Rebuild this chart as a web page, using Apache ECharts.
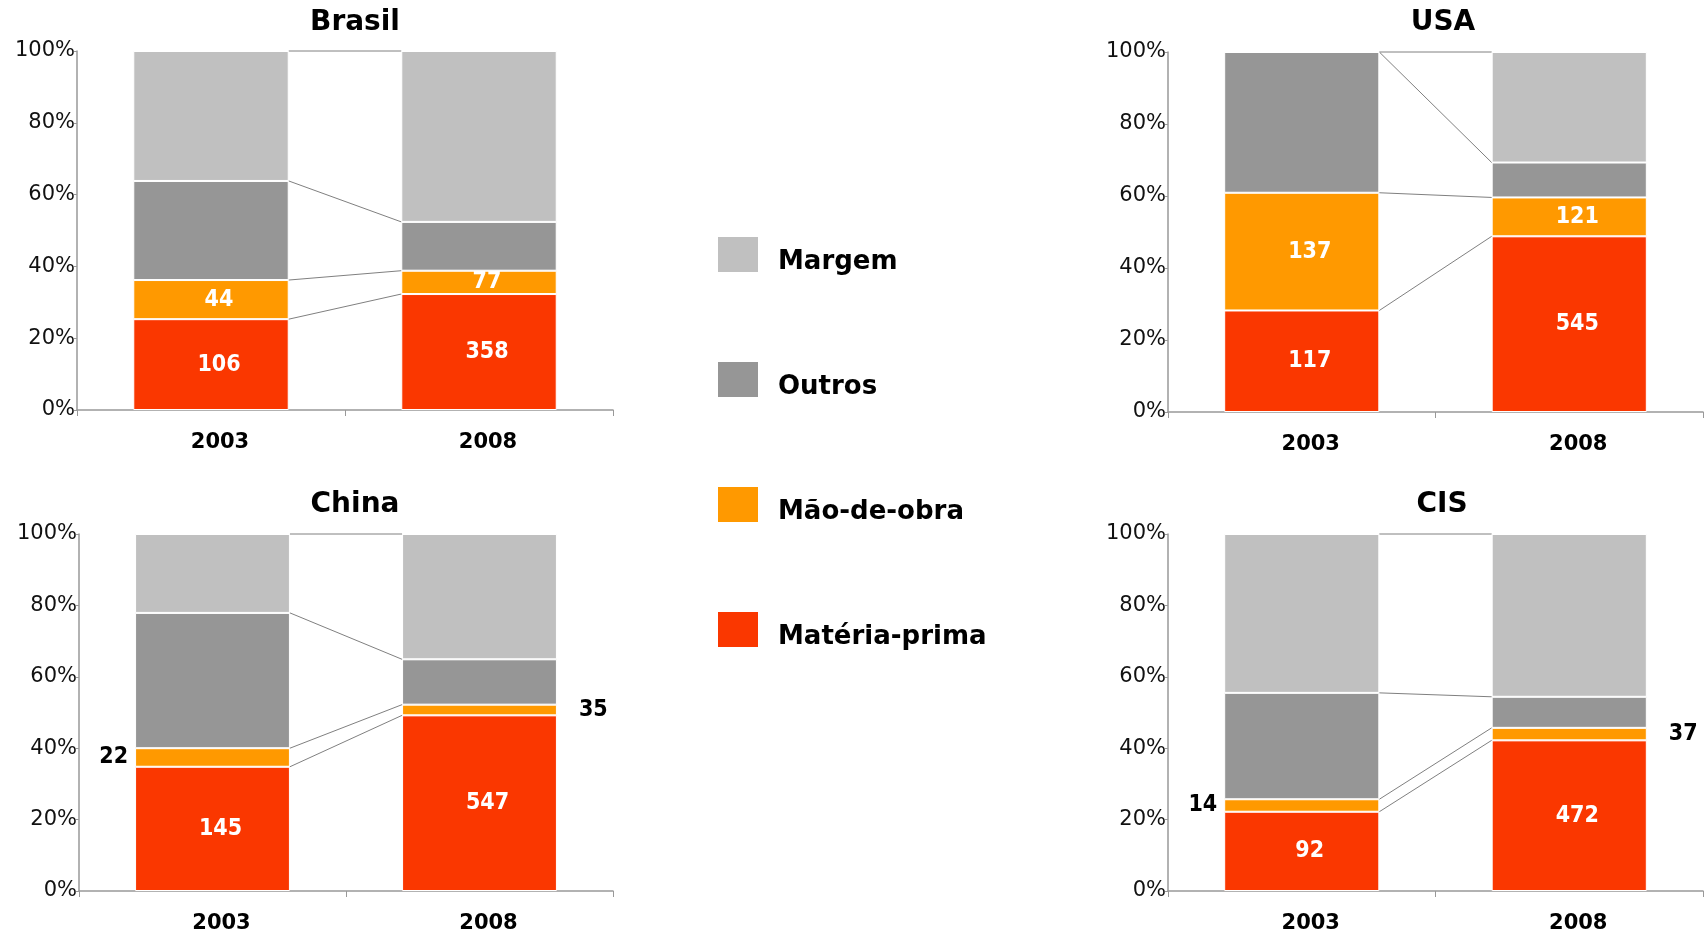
<!DOCTYPE html>
<html>
<head>
<meta charset="utf-8">
<script src="https://cdn.jsdelivr.net/npm/echarts@6/dist/echarts.min.js"></script>
<style>
  html, body { margin: 0; padding: 0; background: #fff; }
  #chart { width: 1707px; height: 934px; }
</style>
</head>
<body>
<div id="chart"></div>
<script>
const years = ['2003', '2008'];
const countries = ['Brasil', 'USA', 'China', 'CIS'];
const legendNames = ['Margem', 'Outros', 'Mão-de-obra', 'Matéria-prima'];

// share of price in % [2003, 2008]
const brasilMateria = [25.3, 32.3];
const brasilMao = [10.9, 6.5];
const brasilOutros = [27.6, 13.6];
const brasilMargem = [36.2, 47.6];

const usaMateria = [28.2, 48.8];
const usaMao = [32.7, 10.8];
const usaOutros = [39.1, 9.7];
const usaMargem = [0, 30.7];

const chinaMateria = [34.8, 49.2];
const chinaMao = [5.2, 3.0];
const chinaOutros = [37.9, 12.7];
const chinaMargem = [22.1, 35.1];

const cisMateria = [22.2, 42.2];
const cisMao = [3.5, 3.5];
const cisOutros = [29.8, 8.7];
const cisMargem = [44.5, 45.6];

// absolute values written on the bars
const brasilMateriaLabel = [106, 358];
const brasilMaoLabel = [44, 77];
const usaMateriaLabel = [117, 545];
const usaMaoLabel = [137, 121];
const chinaMateriaLabel = [145, 547];
const chinaMaoLabel = [22, 35];
const cisMateriaLabel = [92, 472];
const cisMaoLabel = [14, 37];

const stackOrder = ['Matéria-prima', 'Mão-de-obra', 'Outros', 'Margem'];
const colors = {
  'Margem': '#C0C0C0',
  'Outros': '#969696',
  'Mão-de-obra': '#FF9900',
  'Matéria-prima': '#FA3700'
};

const shares = {
  Brasil: [brasilMateria, brasilMao, brasilOutros, brasilMargem],
  USA: [usaMateria, usaMao, usaOutros, usaMargem],
  China: [chinaMateria, chinaMao, chinaOutros, chinaMargem],
  CIS: [cisMateria, cisMao, cisOutros, cisMargem]
};
const labels = {
  Brasil: [brasilMateriaLabel, brasilMaoLabel],
  USA: [usaMateriaLabel, usaMaoLabel],
  China: [chinaMateriaLabel, chinaMaoLabel],
  CIS: [cisMateriaLabel, cisMaoLabel]
};

const grids = [
  { left: 77, top: 51, width: 536, height: 359 },
  { left: 1168, top: 52, width: 535, height: 360 },
  { left: 79, top: 534, width: 534, height: 361 },
  { left: 1168, top: 534, width: 535, height: 361 }
];
const titlePos = [[355, 9], [1443, 9], [355, 491], [1442, 491]];

const BAR_PCT = 0.58;
const numFont = "'Liberation Sans Narrow', 'Arial Narrow', 'DejaVu Sans Condensed', sans-serif";

let series = [];
countries.forEach((country, i) => {
  stackOrder.forEach((name, k) => {
    const labs = labels[country][k];
    series.push({
      type: 'bar',
      name: name,
      stack: country,
      xAxisIndex: i,
      yAxisIndex: i,
      barWidth: (BAR_PCT * 100) + '%',
      itemStyle: { color: colors[name], borderColor: '#fff', borderWidth: 1 },
      emphasis: { disabled: true },
      label: { fontFamily: numFont, fontWeight: 'bold', fontSize: 23 },
      data: shares[country][k].map((v, j) => {
        let item = { value: v };
        if (!labs) {
          item.label = { show: false };
        } else if (v < 6) {
          // thin segment: number goes beside the bar
          item.label = {
            show: true,
            position: j === 0 ? 'left' : 'right',
            distance: j === 0 ? 7 : 22,
            color: '#000',
            formatter: String(labs[j])
          };
        } else {
          item.label = { show: true, position: 'inside', offset: [8, 0], color: '#fff', formatter: String(labs[j]) };
        }
        return item;
      })
    });
  });

  // connector lines between the segment tops of both bars
  let bounds = [];
  let c0 = 0, c1 = 0;
  shares[country].forEach(arr => {
    c0 += arr[0];
    c1 += arr[1];
    bounds.push([0, c0, c1]);
  });
  series.push({
    type: 'custom',
    name: 'link' + i,
    xAxisIndex: i,
    yAxisIndex: i,
    silent: true,
    encode: { x: 0, y: [1, 2] },
    data: bounds,
    renderItem: function (params, api) {
      const p0 = api.coord([0, api.value(1)]);
      const p1 = api.coord([1, api.value(2)]);
      const half = api.size([1, 0])[0] * BAR_PCT / 2;
      return {
        type: 'line',
        shape: { x1: p0[0] + half, y1: p0[1], x2: p1[0] - half, y2: p1[1] },
        style: { stroke: '#808080', lineWidth: 1 }
      };
    }
  });
});

let option = {
  backgroundColor: '#fff',
  animation: false,
  title: countries.map((c, i) => ({
    text: c,
    left: titlePos[i][0],
    top: titlePos[i][1],
    textAlign: 'center',
    padding: 0,
    textStyle: { fontFamily: 'DejaVu Sans', fontWeight: 'bold', fontSize: 28, color: '#000' }
  })),
  legend: {
    data: legendNames,
    orient: 'vertical',
    left: 716,
    top: 235,
    padding: 0,
    icon: 'rect',
    itemWidth: 42,
    itemHeight: 37,
    itemGap: 85,
    selectedMode: false,
    formatter: '{t|{name}}',
    textStyle: {
      rich: {
        t: {
          fontFamily: 'DejaVu Sans',
          fontWeight: 'bold',
          fontSize: 26,
          color: '#000',
          padding: [15, 0, 0, 14]
        }
      }
    }
  },
  grid: grids,
  xAxis: grids.map((g, i) => ({
    type: 'category',
    gridIndex: i,
    data: years,
    axisLine: { lineStyle: { color: '#999', width: 1.5 } },
    axisTick: { show: true, length: 6, lineStyle: { color: '#999' } },
    axisLabel: {
      fontFamily: 'DejaVu Sans', fontWeight: 'bold', fontSize: 21, color: '#000',
      margin: 22, padding: [0, 0, 0, 18]
    }
  })),
  yAxis: grids.map((g, i) => ({
    type: 'value',
    gridIndex: i,
    min: 0,
    max: 100,
    interval: 20,
    splitLine: { show: false },
    axisLine: { show: true, lineStyle: { color: '#999', width: 1.5 } },
    axisTick: { show: true, length: 3, lineStyle: { color: '#999' } },
    axisLabel: { formatter: '{value}%', fontFamily: 'DejaVu Sans', fontSize: 21, color: '#111', margin: 2 }
  })),
  series: series
};

let myChart = echarts.init(document.getElementById('chart'));
myChart.setOption(option);
</script>
</body>
</html>
